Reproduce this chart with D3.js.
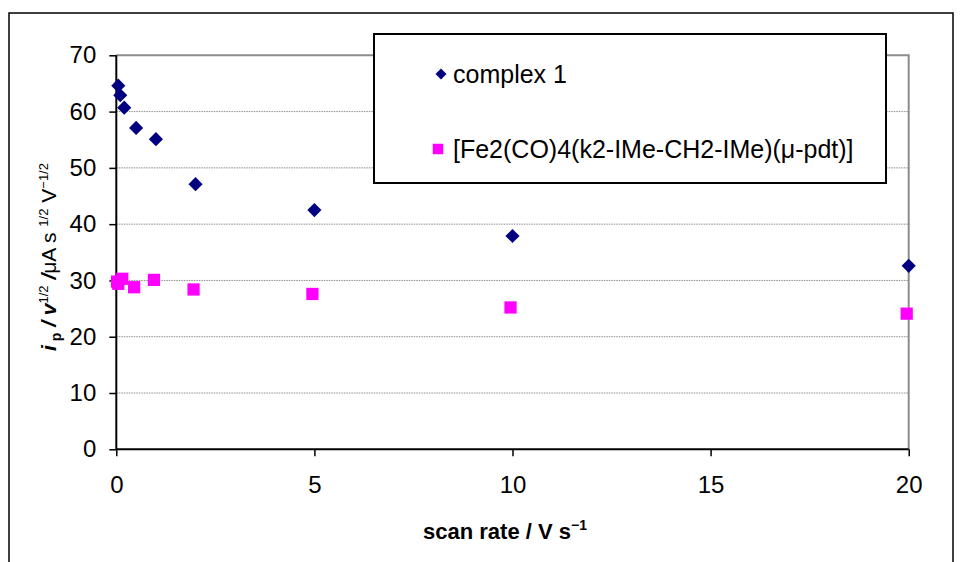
<!DOCTYPE html>
<html>
<head>
<meta charset="utf-8">
<script src="https://cdn.jsdelivr.net/npm/d3@7"></script>
<style>
  html, body { margin: 0; padding: 0; background: #fff; }
  svg { display: block; font-family: "Liberation Sans", Arial, sans-serif; }
</style>
</head>
<body>
<svg id="chart" width="960" height="562"></svg>
<script>
// Scan rates (V s^-1) and normalised peak currents for each compound
const complex1Rates = [0.05, 0.1, 0.2, 0.5, 1, 2, 5, 10, 20];
const complex1Values = [64.6, 62.9, 60.7, 57.1, 55.1, 47.1, 42.5, 37.9, 32.6];
const feRates = [0.02, 0.05, 0.15, 0.45, 0.95, 1.95, 4.95, 9.95, 19.95];
const feValues = [29.8, 29.4, 30.3, 28.8, 30.1, 28.4, 27.6, 25.2, 24.1];
const xTicks = [0, 5, 10, 15, 20];
const yTicks = [0, 10, 20, 30, 40, 50, 60, 70];
const seriesNames = ["complex 1", "[Fe2(CO)4(k2-IMe-CH2-IMe)(\u03bc-pdt)]"];
const seriesColors = ["#000080", "#ff00ff"];

const svg = d3.select("#chart");
const plot = { left: 116.3, right: 908.7, top: 55.3, bottom: 449.3 };

const x = d3.scaleLinear().domain([0, 20]).range([plot.left, plot.right]);
const y = d3.scaleLinear().domain([0, 70]).range([plot.bottom, plot.top]);

// outer frame
svg.append("rect")
  .attr("x", 9).attr("y", 13).attr("width", 944).attr("height", 560)
  .attr("fill", "none").attr("stroke", "#000").attr("stroke-width", 1.5);

// dotted horizontal gridlines
svg.append("g").selectAll("line")
  .data(yTicks.filter(t => t > 0 && t < 70))
  .join("line")
  .attr("x1", plot.left).attr("x2", plot.right)
  .attr("y1", d => y(d)).attr("y2", d => y(d))
  .attr("stroke", "#8c8c8c").attr("stroke-width", 1)
  .attr("stroke-dasharray", "1.5,1");

// plot-area border on top and right
svg.append("path")
  .attr("d", `M${plot.left},${y(70)}H${x(20)}V${y(0)}`)
  .attr("fill", "none").attr("stroke", "#8c8c8c").attr("stroke-width", 2);

// axes
const yAxis = d3.axisLeft(y).tickValues(yTicks).tickSize(7).tickPadding(12);
const xAxis = d3.axisBottom(x).tickValues(xTicks).tickSize(7).tickPadding(20);

const gy = svg.append("g").attr("transform", `translate(${plot.left},0)`).call(yAxis);
const gx = svg.append("g").attr("transform", `translate(0,${plot.bottom})`).call(xAxis);

[gx, gy].forEach(g => {
  g.select(".domain").attr("stroke", "#000").attr("stroke-width", 2);
  g.selectAll(".tick line").attr("stroke", "#000").attr("stroke-width", 1.5);
  g.selectAll(".tick text")
    .attr("fill", "#000")
    .style("font-family", "'Liberation Sans', Arial, sans-serif")
    .style("font-size", "24px");
});
gy.select(".domain").attr("d", `M0,${y(0)}V${y(70)}`);
gx.select(".domain").attr("d", `M${x(0)},0H${x(20)}`);
gy.selectAll(".tick text").attr("x", -20);

// markers
const diamond = d3.symbol().type(d3.symbolSquare).size(100);
const square = d3.symbol().type(d3.symbolSquare).size(150);

svg.append("g").selectAll("path")
  .data(feRates.map((r, i) => [r, feValues[i]]))
  .join("path")
  .attr("d", square)
  .attr("transform", d => `translate(${x(d[0])},${y(d[1])})`)
  .attr("fill", seriesColors[1]);

svg.append("g").selectAll("path")
  .data(complex1Rates.map((r, i) => [r, complex1Values[i]]))
  .join("path")
  .attr("d", diamond)
  .attr("transform", d => `translate(${x(d[0])},${y(d[1])}) rotate(45)`)
  .attr("fill", seriesColors[0]);

// legend
const legend = svg.append("g");
legend.append("rect")
  .attr("x", 374).attr("y", 34).attr("width", 512).attr("height", 149)
  .attr("fill", "#fff").attr("stroke", "#000").attr("stroke-width", 2);
legend.append("path")
  .attr("d", d3.symbol().type(d3.symbolSquare).size(60))
  .attr("transform", "translate(441,74) rotate(45)")
  .attr("fill", seriesColors[0]);
legend.append("path")
  .attr("d", d3.symbol().type(d3.symbolSquare).size(110))
  .attr("transform", "translate(438,149)")
  .attr("fill", seriesColors[1]);
legend.selectAll("text")
  .data(seriesNames)
  .join("text")
  .attr("x", 453)
  .attr("y", (d, i) => i === 0 ? 74 : 149)
  .attr("dy", "0.35em")
  .style("font-size", "25px")
  .text(d => d);

// x-axis title
const xt = svg.append("text")
  .attr("x", 505).attr("y", 539)
  .attr("text-anchor", "middle")
  .style("font-size", "22px").style("font-weight", "bold");
xt.append("tspan").text("scan rate / V s");
xt.append("tspan").attr("dy", -9).style("font-size", "14px").text("\u22121");

// y-axis title
const yt = svg.append("text")
  .attr("transform", `translate(56,257) rotate(-90)`)
  .attr("text-anchor", "middle")
  .style("font-size", "21px");
yt.append("tspan").style("font-weight", "bold").style("font-style", "italic").text("i");
yt.append("tspan").attr("dy", 5).style("font-weight", "bold").style("font-size", "14px").text(" p");
yt.append("tspan").attr("dy", -5).style("font-weight", "bold").style("font-style", "italic").text(" / v");
yt.append("tspan").attr("dy", -8).style("font-size", "13px").text("1/2");
yt.append("tspan").attr("dy", 8).style("font-weight", "bold").style("font-style", "italic").text(" /");
yt.append("tspan").text("\u03bcA s ");
yt.append("tspan").attr("dy", -8).style("font-size", "13px").text("1/2");
yt.append("tspan").attr("dy", 8).text(" V");
yt.append("tspan").attr("dy", -8).style("font-size", "13px").text("\u22121/2");
</script>
</body>
</html>
